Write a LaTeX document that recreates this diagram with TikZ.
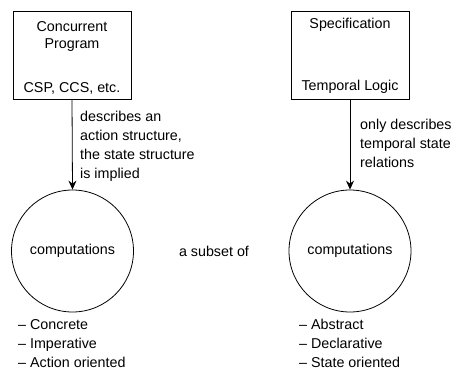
\documentclass[tikz,border=0pt]{standalone}
\usepackage{fontspec}
\setmainfont{Liberation Sans}
\usetikzlibrary{arrows.meta}
\begin{document}
\begin{tikzpicture}[x=1pt,y=-1pt,
  every node/.style={font=\fontsize{14.3}{19}\selectfont, inner sep=0pt},
  boxnode/.style={draw, line width=0.8pt, minimum width=118pt, minimum height=88pt},
  circnode/.style={draw, circle, line width=0.8pt, minimum size=122pt},
  conn/.style={line width=0.8pt, -{Stealth[length=9pt,width=8pt,inset=3pt]}},
  lbl/.style={align=left, anchor=north west}]
\useasboundingbox (0,0) rectangle (452,372);
% boxes
\node[boxnode] (prog) at (72,55) {};
\node[boxnode] (spec) at (350,55) {};
\node (progt1) at (72,27) {Concurrent};
\node (progt2) at (72,45) {Program};
\node (progt3) at (72,88) {CSP, CCS, etc.};
\node (spect1) at (350,25) {Specification};
\node (spect2) at (350,87) {Temporal Logic};
% circles
\node[circnode] (lc) at (72.5,251) {computations};
\node[circnode] (rc) at (350,251) {computations};
\node (subset) at (214,251) {a subset of};
% connectors
\draw[conn] (prog.south) -- (lc.north);
\draw[conn] (spec.south) -- (rc.north);
% labels
\node[lbl] (ll) at (80,111) {describes an\\action structure,\\the state structure\\is implied};
\node[lbl] (rl) at (360,119) {only describes\\temporal state\\relations};
\node[lbl] (lb) at (18,319) {-- Concrete\\-- Imperative\\-- Action oriented};
\node[lbl] (rb) at (299,319) {-- Abstract\\-- Declarative\\-- State oriented};
\end{tikzpicture}
\end{document}
